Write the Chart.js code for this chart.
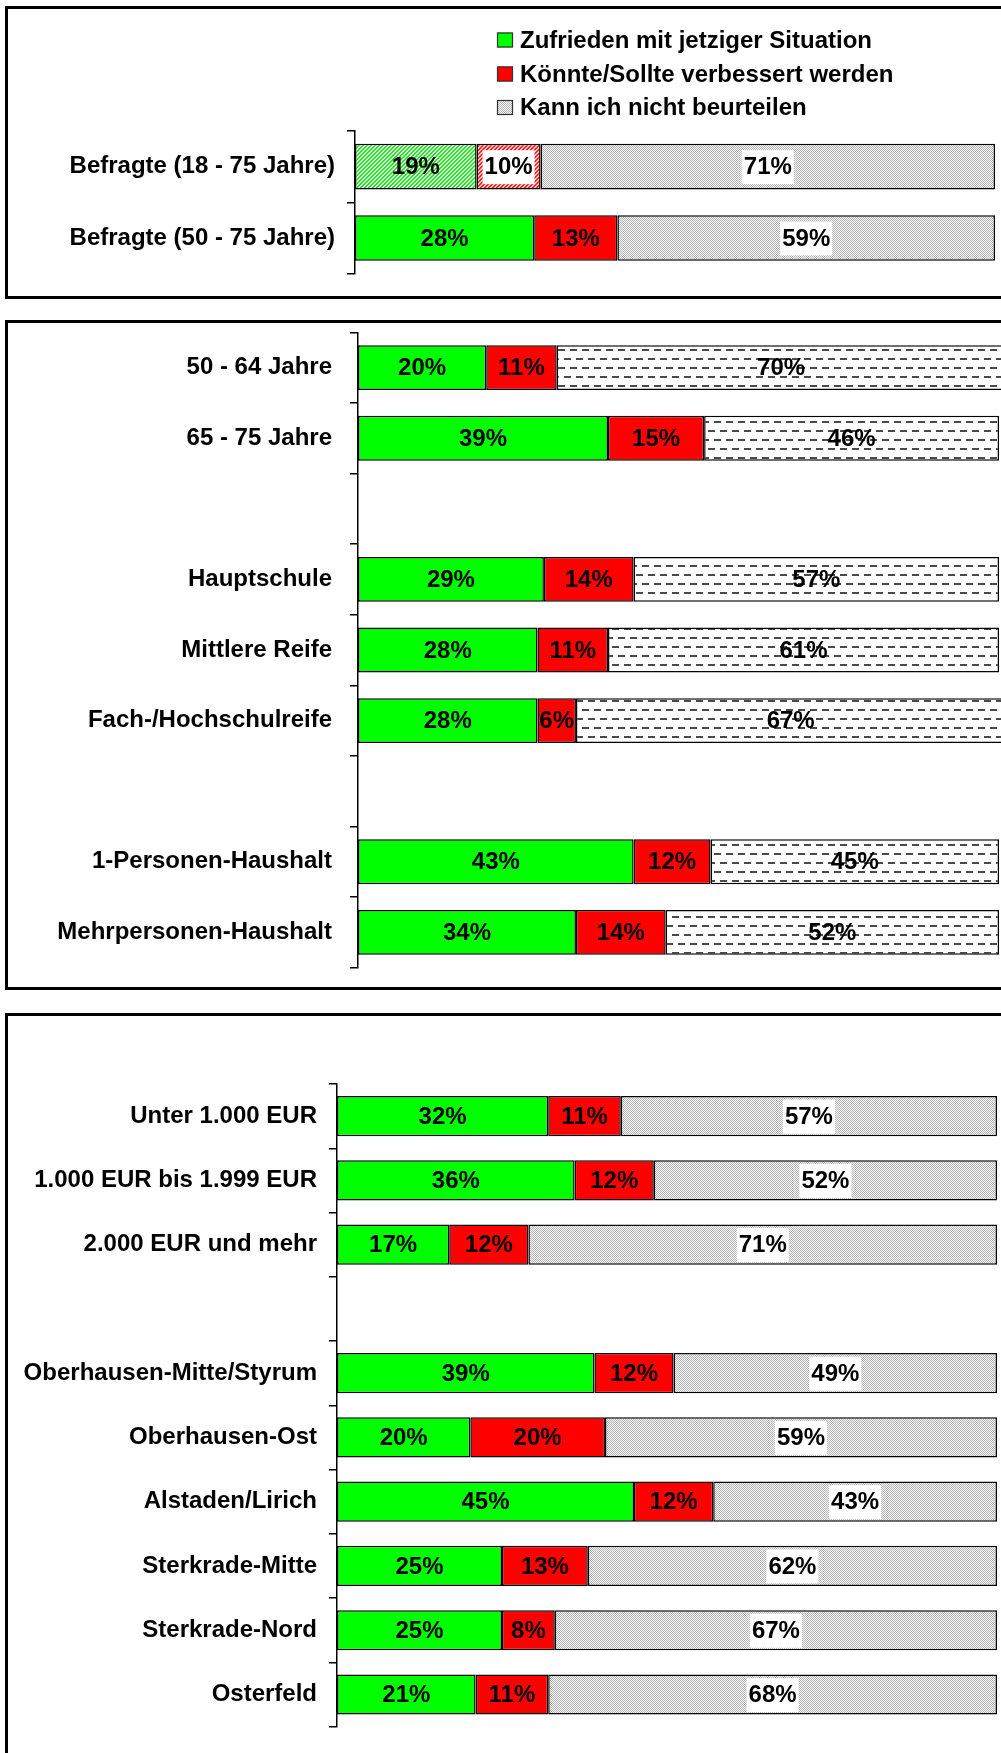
<!DOCTYPE html>
<html><head><meta charset="utf-8">
<script src="https://cdn.jsdelivr.net/npm/chart.js@4"></script>
<style>
html,body{margin:0;padding:0;background:#fff;}
body{width:1001px;height:1753px;overflow:hidden;position:relative;}
.panel{position:absolute;left:5px;width:1100px;border:3px solid #000;box-sizing:border-box;}
canvas{position:absolute;left:0;}
</style></head><body>
<div class="panel" style="top:6px;height:293px"></div>
<div class="panel" style="top:320px;height:670px"></div>
<div class="panel" style="top:1013px;height:900px"></div>
<canvas id="c1" width="1001" height="300" style="top:0"></canvas>
<canvas id="c2" width="1001" height="700" style="top:300px"></canvas>
<canvas id="c3" width="1001" height="753" style="top:1000px"></canvas>
<script>
// ---------- data ----------
const seriesNames = ['Zufrieden mit jetziger Situation', 'Könnte/Sollte verbessert werden', 'Kann ich nicht beurteilen'];

const categories1 = ['Befragte (18 - 75 Jahre)', 'Befragte (50 - 75 Jahre)'];
const zufrieden1 = [19, 28];
const verbessert1 = [10, 13];
const nichtBeurteilen1 = [71, 59];

const categories2 = ['50 - 64 Jahre', '65 - 75 Jahre', '', 'Hauptschule', 'Mittlere Reife', 'Fach-/Hochschulreife', '', '1-Personen-Haushalt', 'Mehrpersonen-Haushalt'];
const zufrieden2 = [20, 39, null, 29, 28, 28, null, 43, 34];
const verbessert2 = [11, 15, null, 14, 11, 6, null, 12, 14];
const nichtBeurteilen2 = [70, 46, null, 57, 61, 67, null, 45, 52];

const categories3 = ['Unter 1.000 EUR', '1.000 EUR bis 1.999 EUR', '2.000 EUR und mehr', '', 'Oberhausen-Mitte/Styrum', 'Oberhausen-Ost', 'Alstaden/Lirich', 'Sterkrade-Mitte', 'Sterkrade-Nord', 'Osterfeld'];
const zufrieden3 = [32, 36, 17, null, 39, 20.2, 45, 25, 25, 21];
const verbessert3 = [11, 12, 12, null, 12, 20.4, 12, 13, 8, 11];
const nichtBeurteilen3 = [57, 52, 71, null, 49, 59.4, 43, 62, 67, 68];

// ---------- styles ----------
const FONT = '"Liberation Sans", Arial, sans-serif';
const FS = 24;
Chart.defaults.font.family = FONT;
const GREEN = '#00ff00', RED = '#ff0000';

function tile(w, h, draw) {
  const c = document.createElement('canvas'); c.width = w; c.height = h;
  const x = c.getContext('2d'); draw(x);
  return x.createPattern(c, 'repeat');
}
function hatch(bg, fg) {
  return tile(4, 4, x => {
    x.fillStyle = bg; x.fillRect(0, 0, 4, 4); x.fillStyle = fg;
    for (let i = 0; i < 4; i++) { x.fillRect(i, (3 - i + 4) % 4, 1, 1); x.fillRect(i, (4 - i) % 4, 1, 1); }
  });
}
const greenHatch = hatch('#d2f9d2', '#2ee02e');
const redHatch = hatch('#ffc4c4', '#ff2020');
const greyDots = tile(2, 2, x => { x.fillStyle = '#fbfbfb'; x.fillRect(0, 0, 2, 2); x.fillStyle = '#b2b2b2'; x.fillRect(0, 0, 1, 1); x.fillRect(1, 1, 1, 1); });
const dashes = tile(12, 18, x => {
  x.fillStyle = '#fff'; x.fillRect(0, 0, 12, 18); x.fillStyle = '#4a4a4a';
  x.fillRect(0, 4, 7, 2); x.fillRect(6, 13, 6, 2); x.fillRect(0, 13, 1, 2);
});

function valueLabels(boxed) {
  return {
    id: 'valueLabels',
    afterDatasetsDraw(chart) {
      const ctx = chart.ctx; ctx.save();
      ctx.font = 'bold ' + FS + 'px ' + FONT; ctx.textAlign = 'center'; ctx.textBaseline = 'middle';
      chart.data.datasets.forEach((ds, di) => {
        chart.getDatasetMeta(di).data.forEach((el, i) => {
          const v = ds.data[i]; if (v == null) return;
          const p = el.getProps(['x', 'base', 'y'], true);
          const cx = (p.x + p.base) / 2, t = Math.round(v) + '%';
          if (boxed(di, i)) {
            const w = ctx.measureText(t).width;
            ctx.fillStyle = '#fff'; ctx.fillRect(cx - w / 2 - 2, p.y - 16.5, w + 4, 34);
          }
          ctx.fillStyle = '#000'; ctx.fillText(t, cx, p.y + 1);
        });
      });
      ctx.restore();
    }
  };
}

const legendPlugin = {
  id: 'ownLegend',
  afterDraw(chart) {
    const ctx = chart.ctx; ctx.save();
    const fills = [GREEN, RED, greyDots], rows = [40, 74, 107.5];
    ctx.font = 'bold ' + FS + 'px ' + FONT; ctx.textBaseline = 'middle'; ctx.textAlign = 'left';
    seriesNames.forEach((name, k) => {
      ctx.fillStyle = fills[k]; ctx.fillRect(497, rows[k] - 7.5, 16, 15);
      ctx.strokeStyle = '#333'; ctx.lineWidth = 1.2; ctx.strokeRect(497.5, rows[k] - 7, 15, 14);
      ctx.fillStyle = '#000'; ctx.fillText(name, 520, rows[k] + 1);
    });
    ctx.restore();
  }
};

function makeChart(id, cats, series, fillFn, cfg, plugins) {
  const datasets = series.map((data, k) => ({
    label: seriesNames[k], data,
    backgroundColor: cats.map((_, i) => fillFn(k, i)),
    borderColor: '#000', borderWidth: 1.5, borderSkipped: false,
    barPercentage: cfg.bar, categoryPercentage: 1, clip: false
  }));
  return new Chart(document.getElementById(id), {
    type: 'bar',
    data: { labels: cats, datasets },
    options: {
      responsive: false, animation: false, indexAxis: 'y',
      layout: { padding: { top: cfg.top, bottom: cfg.bottom, left: 0, right: cfg.right } },
      plugins: { legend: { display: false }, tooltip: { enabled: false } },
      scales: {
        x: { stacked: true, min: 0, max: 100, display: false },
        y: {
          stacked: true,
          afterFit(s) { s.width = cfg.yWidth; },
          grid: { offset: true, drawOnChartArea: false, drawTicks: true, tickLength: 8, color: '#000', lineWidth: 1.5 },
          border: { display: true, color: '#000', width: 1.5 },
          ticks: { color: '#000', font: { size: FS, weight: 'bold', family: FONT }, padding: cfg.pad, autoSkip: false }
        }
      }
    },
    plugins
  });
}

makeChart('c1', categories1, [zufrieden1, verbessert1, nichtBeurteilen1],
  (k, i) => k === 0 ? (i === 0 ? greenHatch : GREEN) : k === 1 ? (i === 0 ? redHatch : RED) : greyDots,
  { top: 131, bottom: 23, right: 6, yWidth: 355, pad: 12, bar: 0.64 },
  [valueLabels((k, i) => k === 2 || (k === 1 && i === 0)), legendPlugin]);

makeChart('c2', categories2, [zufrieden2, verbessert2, nichtBeurteilen2],
  (k, i) => k === 0 ? GREEN : k === 1 ? RED : dashes,
  { top: 31, bottom: 31, right: 2, yWidth: 358, pad: 18, bar: 0.635 },
  [valueLabels(() => false)]);

makeChart('c3', categories3, [zufrieden3, verbessert3, nichtBeurteilen3],
  (k, i) => k === 0 ? GREEN : k === 1 ? RED : greyDots,
  { top: 84, bottom: 11, right: 4, yWidth: 337, pad: 12, bar: 0.625 },
  [valueLabels((k) => k === 2)]);
</script>
</body></html>
